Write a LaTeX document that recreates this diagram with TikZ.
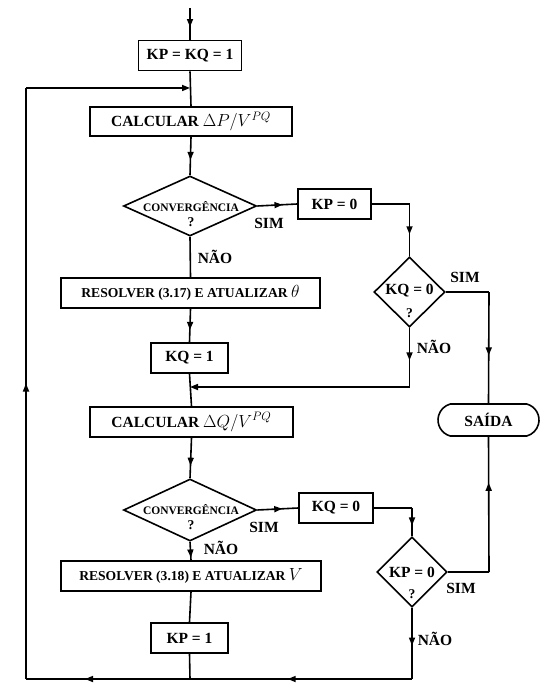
\RequirePackage{fix-cm}
\documentclass[tikz,border=0pt]{standalone}
\usepackage{fontspec}
\setmainfont{Liberation Serif}
\usetikzlibrary{arrows.meta,shapes.geometric,shapes.misc,decorations.markings}
\newcommand{\bigmath}[1]{{\fontsize{17.5}{20}\selectfont$#1$}}
\begin{document}
\begin{tikzpicture}[x=1pt,y=-1pt,
  line width=1.6pt,
  every node/.style={font=\fontsize{15.5}{18}\selectfont\bfseries},
  box/.style={draw,rectangle,inner sep=0pt,minimum height=30pt},
  dia/.style={draw,diamond,inner sep=0pt},
  term/.style={draw,rounded rectangle,rounded rectangle arc length=150,inner sep=0pt,minimum width=101pt,minimum height=32pt},
  lbl/.style={inner sep=0pt},
  small/.style={font=\fontsize{11.5}{13}\selectfont\bfseries,inner sep=0pt},
  qm/.style={font=\fontsize{13.5}{15}\selectfont\bfseries,inner sep=0pt},
  tip/.style={-{Triangle[length=8pt,width=6pt]}},
  arrowat/.style={postaction={decorate},decoration={markings,
     mark=at position #1 with {\arrow{Triangle[length=8pt,width=6pt]}}}}
]
\useasboundingbox (0,0) rectangle (559,692);

% main column nodes
\coordinate (start) at (190,8);
\node[box,minimum width=103pt] (kp1) at (190,55.5) {KP = KQ = 1};
\coordinate (j1) at (190,88);
\node[box,minimum width=202pt,minimum height=29pt] (calcP) at (191,121.5) {CALCULAR \bigmath{\Delta P/V^{PQ}}};
\node[dia,minimum width=133pt,minimum height=60pt] (d1) at (190,206) {};
\node[small] (d1a) at (191,207) {CONVERGÊNCIA};
\node[qm] (d1b) at (191,222) {?};
\node[lbl] (sim1) at (269,223) {SIM};
\node[lbl] (nao1) at (215,257) {NÃO};
\node[box,minimum width=259pt,font=\fontsize{13.6}{16}\selectfont\bfseries] (res1) at (190.5,293) {RESOLVER (3.17) E ATUALIZAR \bigmath{\theta}};
\node[box,minimum width=77pt] (kq1) at (189.5,358) {KQ = 1};
\coordinate (j2) at (190,387);
\node[box,minimum width=203pt] (calcQ) at (191.5,422) {CALCULAR \bigmath{\Delta Q/V^{PQ}}};
\node[dia,minimum width=133pt,minimum height=62pt] (d3) at (190,510) {};
\node[small] (d3a) at (191,510) {CONVERGÊNCIA};
\node[qm] (d3b) at (191,525) {?};
\node[lbl] (sim3) at (264,527) {SIM};
\node[lbl] (nao3) at (221,548) {NÃO};
\node[box,minimum width=260pt,font=\fontsize{13.6}{16}\selectfont\bfseries] (res2) at (191,576) {RESOLVER (3.18) E ATUALIZAR \bigmath{V}};
\node[box,minimum width=77pt] (kp1b) at (189.5,638) {KP = 1};
\coordinate (j3) at (190,679);
\coordinate (c7) at (26,679);
\coordinate (c8) at (26,88);

% right upper branch
\node[box,minimum width=73pt] (kp0) at (334.5,204) {KP = 0};
\coordinate (c1) at (409.5,204);
\node[dia,minimum width=71pt,minimum height=70pt] (d2) at (409.5,292) {};
\node[lbl] (d2a) at (409.5,291) {KQ = 0};
\node[qm] (d2b) at (409.5,313) {?};
\node[lbl] (sim2) at (465,277) {SIM};
\node[lbl] (nao2) at (434,347) {NÃO};
\coordinate (c2) at (489,292);
\coordinate (c3) at (409.5,387);
\node[term] (saida) at (488.5,420) {SAÍDA};

% right lower branch
\node[box,minimum width=74pt] (kq0) at (336,508) {KQ = 0};
\coordinate (c4) at (412,508);
\node[dia,minimum width=70pt,minimum height=70pt] (d4) at (412,572) {};
\node[lbl] (d4a) at (412,572) {KP = 0};
\node[qm] (d4b) at (412,594) {?};
\node[lbl] (sim4) at (461,588) {SIM};
\node[lbl] (nao4) at (435,639) {NÃO};
\coordinate (c5) at (489,572);
\coordinate (c6) at (412,679);

% connectors main column
\draw[arrowat=0.6] (start) -- (kp1.north);
\draw (kp1.south) -- (calcP.north);
\draw[arrowat=0.6] (calcP.south) -- (d1.north);
\draw (d1.south) -- (res1.north);
\draw[arrowat=0.63] (res1.south) -- (kq1.north);
\draw (kq1.south) -- (calcQ.north);
\draw[arrowat=0.69] (calcQ.south) -- (d3.north);
\draw[arrowat=0.85] (d3.south) -- (res2.north);
\draw (res2.south) -- (kp1b.north);
\draw (kp1b.south) -- (j3);

% loop back on the left
\draw[arrowat=0.64] (j3) -- (c7);
\draw[arrowat=0.5] (c7) -- (c8);
\draw[tip] (c8) -- (j1);

% upper right branch
\draw[arrowat=0.63] (d1.east) -- (kp0.west);
\draw (kp0.east) -- (c1);
\draw[arrowat=0.58] (c1) -- (d2.north);
\draw (d2.east) -- (c2);
\draw[arrowat=0.57] (c2) -- (saida.north);
\draw[arrowat=0.55] (d2.south) -- (c3);
\draw[tip] (c3) -- (j2);

% lower right branch
\draw[arrowat=0.61] (d3.east) -- (kq0.west);
\draw (kq0.east) -- (c4);
\draw[arrowat=0.62] (c4) -- (d4.north);
\draw (d4.east) -- (c5);
\draw[arrowat=0.66] (c5) -- (saida.south);
\draw[arrowat=0.53] (d4.south) -- (c6);
\draw[arrowat=0.56] (c6) -- (j3);
\end{tikzpicture}
\end{document}
